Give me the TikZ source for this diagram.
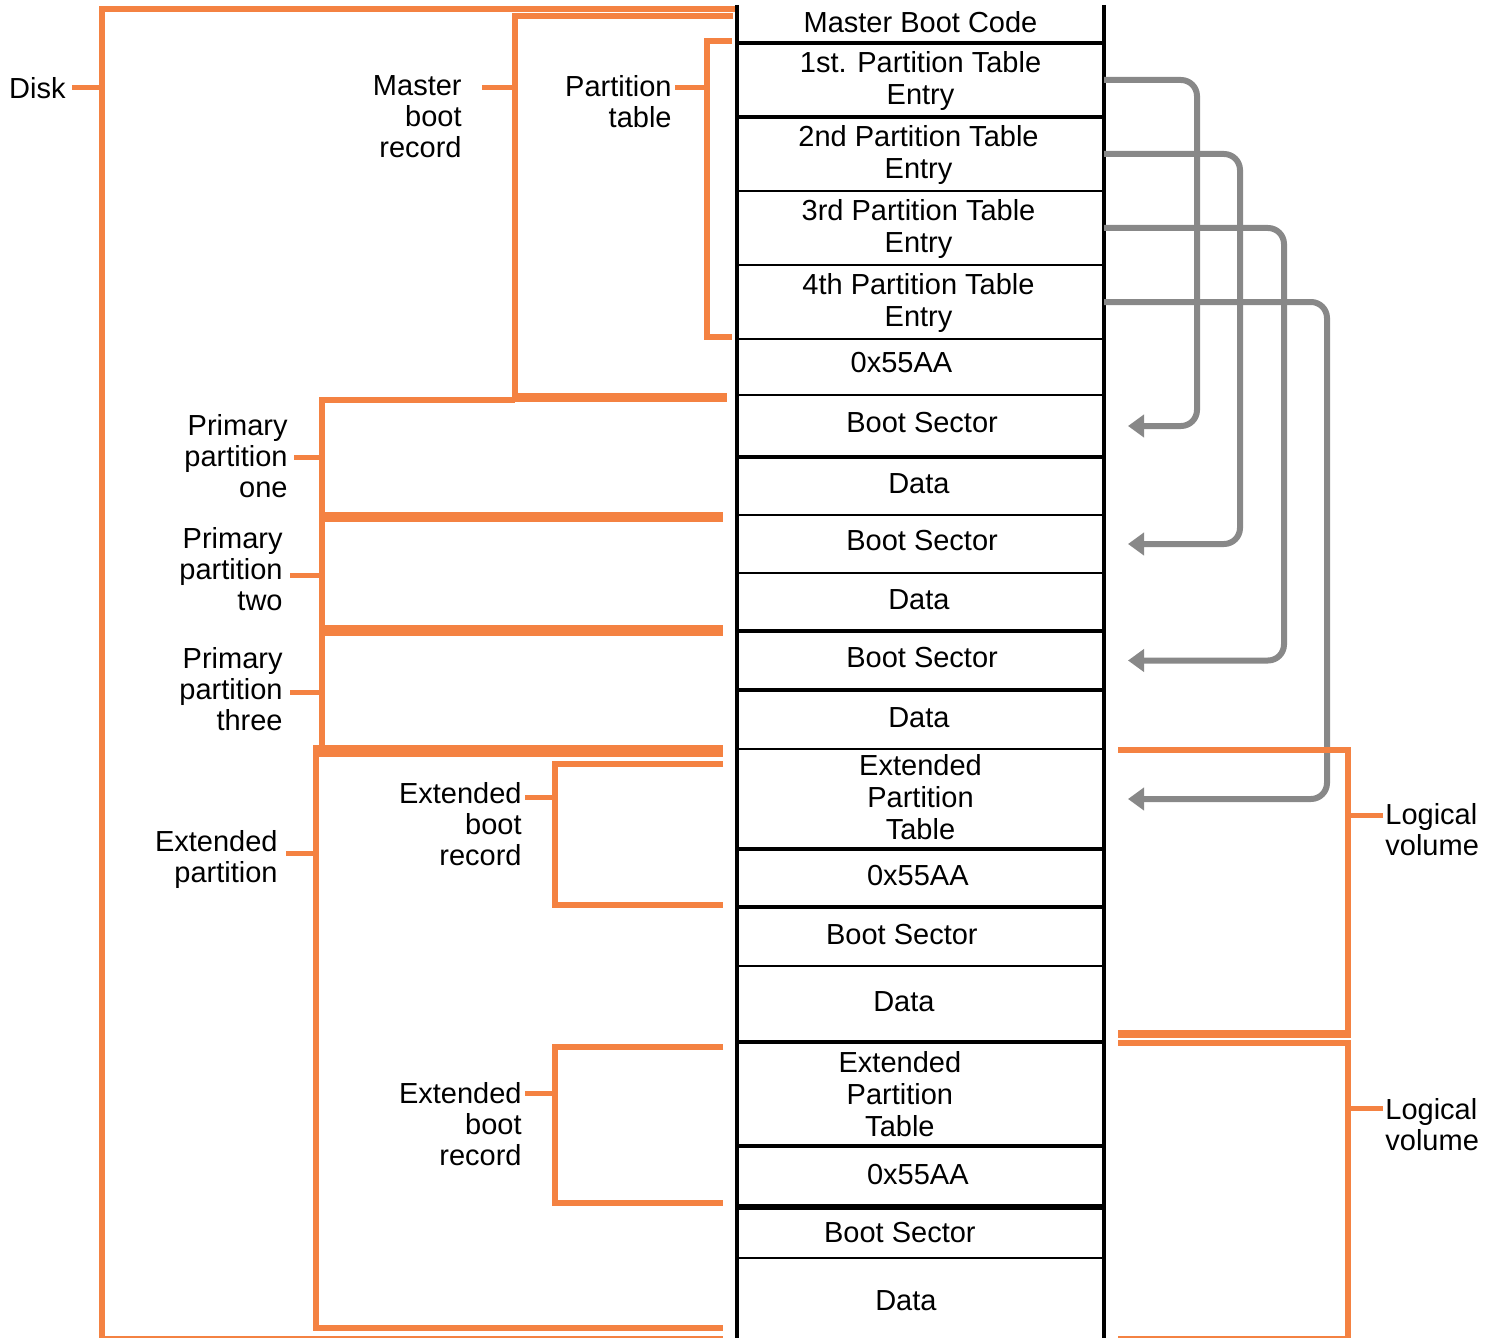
\documentclass[tikz,border=0pt]{standalone}
\usepackage{fontspec}
\setmainfont{Liberation Sans}
\usetikzlibrary{arrows.meta}
\definecolor{orangec}{RGB}{244,130,66}
\definecolor{grayc}{RGB}{136,136,136}
\newcommand{\labfont}{\fontsize{14.5pt}{15.5pt}\selectfont}
\newcommand{\cellfont}{\fontsize{14.5pt}{16pt}\selectfont}
\tikzset{
  cell/.style={minimum width=183.5pt, minimum height=#1*0.5pt, inner sep=0pt, outer sep=0pt, anchor=north west, draw=none},
  ctext/.style={font=\cellfont, align=center, inner sep=0pt},
  lab/.style={font=\labfont, align=right, inner sep=0pt, anchor=east},
  labl/.style={font=\labfont, align=left, inner sep=0pt, anchor=west},
  thin/.style={draw=black, line width=1.25pt},
  thick/.style={draw=black, line width=2pt},
  ob/.style={draw=orangec, line width=3pt},
  obw/.style={draw=orangec, line width=#1*0.5pt},
  otick/.style={draw=orangec, line width=2.5pt},
  garrow/.style={draw=grayc, line width=3pt, rounded corners=8pt, -{Triangle[length=8pt,width=11pt]}}
}
\begin{document}
\begin{tikzpicture}[x=0.5pt,y=-0.5pt]
\useasboundingbox[fill=white] (0,0) rectangle (1490,1338);

% table cells
\node[cell=38]  (c1)  at (737,5) {};
\node[cell=74]  (c2)  at (737,43) {};
\node[cell=74]  (c3)  at (737,117) {};
\node[cell=74]  (c4)  at (737,191) {};
\node[cell=74]  (c5)  at (737,265) {};
\node[cell=56]  (c6)  at (737,339) {};
\node[cell=62]  (c7)  at (737,395) {};
\node[cell=58]  (c8)  at (737,457) {};
\node[cell=58]  (c9)  at (737,515) {};
\node[cell=58]  (c10) at (737,573) {};
\node[cell=59]  (c11) at (737,631) {};
\node[cell=59]  (c12) at (737,690) {};
\node[cell=100] (c13) at (737,749) {};
\node[cell=58]  (c14) at (737,849) {};
\node[cell=59]  (c15) at (737,907) {};
\node[cell=76]  (c16) at (737,966) {};
\node[cell=104] (c17) at (737,1042) {};
\node[cell=61]  (c18) at (737,1146) {};
\node[cell=51]  (c19) at (737,1207) {};
\node[cell=80]  (c20) at (737,1258) {};

% cell texts
\node[ctext] (t1)  at ([yshift=1pt]c1.center) {Master Boot Code};
\node[ctext] (t2)  at ([yshift=-0.5pt]c2.center) {1st. Partition Table\\Entry};
\node[ctext] (t3)  at ([xshift=-1pt,yshift=-0.5pt]c3.center) {2nd Partition Table\\Entry};
\node[ctext] (t4)  at ([xshift=-1pt,yshift=-0.5pt]c4.center) {3rd Partition Table\\Entry};
\node[ctext] (t5)  at ([xshift=-1pt,yshift=-0.5pt]c5.center) {4th Partition Table\\Entry};
\node[ctext] (t6)  at ([xshift=-9.5pt,yshift=2pt]c6.center) {0x55AA};
\node[ctext] (t7)  at ([xshift=0.8pt,yshift=1.5pt]c7.center) {Boot Sector};
\node[ctext] (t8)  at ([xshift=-0.8pt,yshift=1pt]c8.center) {Data};
\node[ctext] (t9)  at ([xshift=0.8pt,yshift=1.5pt]c9.center) {Boot Sector};
\node[ctext] (t10) at ([xshift=-0.8pt,yshift=1pt]c10.center) {Data};
\node[ctext] (t11) at ([xshift=0.8pt,yshift=1.5pt]c11.center) {Boot Sector};
\node[ctext] (t12) at ([xshift=-0.8pt,yshift=1pt]c12.center) {Data};
\node[ctext] (t13) at ([yshift=1pt]c13.center) {Extended\\Partition\\Table};
\node[ctext] (t14) at ([xshift=-1.3pt,yshift=1pt]c14.center) {0x55AA};
\node[ctext] (t15) at ([xshift=-9.3pt,yshift=1pt]c15.center) {Boot Sector};
\node[ctext] (t16) at ([xshift=-8.3pt,yshift=1pt]c16.center) {Data};
\node[ctext] (t17) at ([xshift=-10.3pt,yshift=0pt]c17.center) {Extended\\Partition\\Table};
\node[ctext] (t18) at ([xshift=-1.3pt,yshift=1pt]c18.center) {0x55AA};
\node[ctext] (t19) at ([xshift=-10.3pt,yshift=0pt]c19.center) {Boot Sector};
\node[ctext] (t20) at ([xshift=-7.3pt,yshift=-1.5pt]c20.center) {Data};

% table dividers
\draw[thick] (c1.south west) -- (c1.south east);
\draw[thick] (c2.south west) -- (c2.south east);
\draw[thin]  (c3.south west) -- (c3.south east);
\draw[thin]  (c4.south west) -- (c4.south east);
\draw[thin]  (c5.south west) -- (c5.south east);
\draw[thin]  (c6.south west) -- (c6.south east);
\draw[thick] (c7.south west) -- (c7.south east);
\draw[thin]  (c8.south west) -- (c8.south east);
\draw[thin]  (c9.south west) -- (c9.south east);
\draw[thick] (c10.south west) -- (c10.south east);
\draw[thick] (c11.south west) -- (c11.south east);
\draw[thin]  (c12.south west) -- (c12.south east);
\draw[thick] (c13.south west) -- (c13.south east);
\draw[thick] (c14.south west) -- (c14.south east);
\draw[thin]  (c15.south west) -- (c15.south east);
\draw[thick] (c16.south west) -- (c16.south east);
\draw[thick] (c17.south west) -- (c17.south east);
\draw[draw=black, line width=2.6pt] (c18.south west) -- (c18.south east);
\draw[thin]  (c19.south west) -- (c19.south east);
% table sides
\draw[thick] (c1.north west) -- (c20.south west);
\draw[thick] (c1.north east) -- (c20.south east);

% gray arrows
\draw[garrow] (c2.east) -- ++(93,0) |- ([xshift=12pt]c7.east);
\draw[garrow] (c3.east) -- ++(136,0) |- ([xshift=12pt]c9.east);
\draw[garrow] (c4.east) -- ++(180,0) |- ([xshift=12pt]c11.east);
\draw[garrow] (c5.east) -- ++(223,0) |- ([xshift=12pt]c13.east);

% orange brackets, left side
% Disk
\draw[ob] (735,9) -- (102,9) -- (102,1339) -- (723,1339);
% Master boot record
\draw[ob] (733,16) -- (515,16) -- (515,397);
\draw[obw=9] (512,397) -- (727,397);
% Partition table
\draw[ob] (732,41) -- (707,41) -- (707,337) -- (732,337);
% Primary partitions
\draw[ob] (322,752) -- (322,400) -- (515,400);
\draw[obw=10] (319,517) -- (723,517);
\draw[obw=11] (319,630) -- (723,630);
\draw[obw=12] (313,751) -- (723,751);
% Extended partition
\draw[ob] (316,751) -- (316,1328) -- (723,1328);
% Extended boot records
\draw[ob] (723,764) -- (555,764) -- (555,905) -- (723,905);
\draw[ob] (723,1047) -- (555,1047) -- (555,1203) -- (723,1203);

% orange brackets, right side (logical volumes)
\draw[ob] (1118,750) -- (1348,750) -- (1348,1034);
\draw[obw=8] (1118,1034) -- (1351,1034);
\draw[ob] (1118,1043) -- (1348,1043) -- (1348,1339) -- (1118,1339);

% labels
\node[lab] (disk) at (66,88) {Disk};
\node[lab] (mbr)  at (462,117) {Master\\boot\\record};
\node[lab] (pt)   at (672,102) {Partition\\table};
\node[lab] (pp1)  at (288,456) {Primary\\partition\\one};
\node[lab] (pp2)  at (283,569) {Primary\\partition\\two};
\node[lab] (pp3)  at (283,689) {Primary\\partition\\three};
\node[lab] (ep)   at (278,859) {Extended\\partition};
\node[lab] (ebr1) at (522,824) {Extended\\boot\\record};
\node[lab] (ebr2) at (522,1124) {Extended\\boot\\record};
\node[labl] (lv1) at (1385,830) {Logical\\volume};
\node[labl] (lv2) at (1385,1125) {Logical\\volume};

% ticks from labels to brackets
\coordinate (kdisk) at (102,88);
\coordinate (kmbr) at (515,88);
\coordinate (kpt) at (707,88);
\coordinate (kpp1) at (322,457);
\coordinate (kpp2) at (322,575);
\coordinate (kpp3) at (322,692);
\coordinate (kep) at (316,853);
\coordinate (kebr1) at (555,797);
\coordinate (kebr2) at (555,1093);
\coordinate (klv1) at (1348,815);
\coordinate (klv2) at (1348,1108);
\draw[otick] ([xshift=3pt]disk.east) -- (kdisk);
\draw[otick] (kmbr) -- ++(-33,0);
\draw[otick] (kpt) -- ++(-32,0);
\draw[otick] (kpp1) -- ++(-28,0);
\draw[otick] (kpp2) -- ++(-32,0);
\draw[otick] (kpp3) -- ++(-32,0);
\draw[otick] (kep) -- ++(-30,0);
\draw[otick] (kebr1) -- ++(-30,0);
\draw[otick] (kebr2) -- ++(-30,0);
\draw[otick] (klv1) -- ++(35,0);
\draw[otick] (klv2) -- ++(35,0);
\end{tikzpicture}
\end{document}
